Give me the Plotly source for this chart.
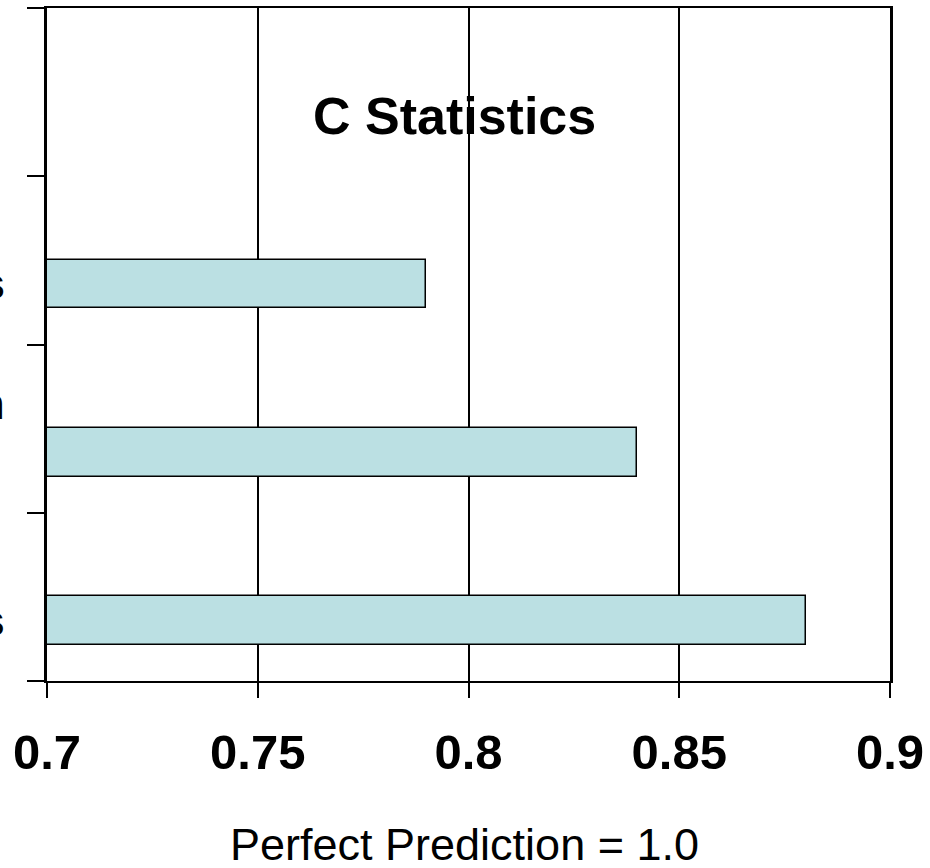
import plotly.graph_objects as go

# C statistic for each risk model (top to bottom)
models = ["Claims Diagnoses", "Claims + Admission<br>Laboratory<br>Data", "Full Clinical Models"]
c_stat = [0.79, 0.84, 0.88]
positions = [2, 1, 0]
label_shift = [-0.14, -0.19, -0.14]

x_ticks = [0.7, 0.75, 0.8, 0.85, 0.9]
x_tick_text = ["0.7", "0.75", "0.8", "0.85", "0.9"]

FONT = "Arial, Liberation Sans, sans-serif"

fig = go.Figure()
fig.add_trace(go.Bar(
    x=c_stat,
    y=positions,
    orientation="h",
    width=0.29,
    offset=-0.285,
    marker=dict(color="#BBE0E3", line=dict(color="black", width=1.5)),
    hoverinfo="x",
))

# category labels on the left of the plot
for name, pos, dy in zip(models, positions, label_shift):
    fig.add_annotation(
        x=0, xref="paper", y=pos + dy, yref="y",
        text=f"<b>{name}</b>", showarrow=False,
        xanchor="right", yanchor="middle", xshift=-40, align="center",
        font=dict(family=FONT, size=44, color="black"),
    )

fig.add_annotation(
    x=0.483, xref="paper", y=0.84, yref="paper",
    text="<b>C Statistics</b>", showarrow=False,
    xanchor="center", yanchor="middle",
    font=dict(family=FONT, size=52, color="black"),
)
fig.add_annotation(
    x=0.4953, xref="paper", y=-0.243, yref="paper",
    text="Perfect Prediction = 1.0", showarrow=False,
    xanchor="center", yanchor="middle",
    font=dict(family=FONT, size=45, color="black"),
)

fig.update_xaxes(
    range=[0.7, 0.9], tickvals=x_ticks, ticktext=x_tick_text,
    ticks="outside", ticklen=15, tickwidth=2, tickcolor="black",
    showline=True, linewidth=2, linecolor="black", mirror=True,
    showgrid=True, gridcolor="black", gridwidth=2,
    zeroline=False, ticklabelstandoff=12,
    tickfont=dict(family=FONT, size=49, color="black", weight="bold"),
)
fig.update_yaxes(
    range=[-0.5, 3.5], tickvals=[-0.5, 0.5, 1.5, 2.5, 3.5],
    showticklabels=False,
    ticks="outside", ticklen=17, tickwidth=2, tickcolor="black",
    showline=True, linewidth=2.5, linecolor="black", mirror=True,
    showgrid=False, zeroline=False,
)
fig.update_layout(
    width=930, height=868,
    margin=dict(l=47, r=40, t=6, b=187),
    plot_bgcolor="white", paper_bgcolor="white",
    showlegend=False, bargap=0,
    font=dict(family=FONT, color="black"),
)

fig.write_html("out.html")
